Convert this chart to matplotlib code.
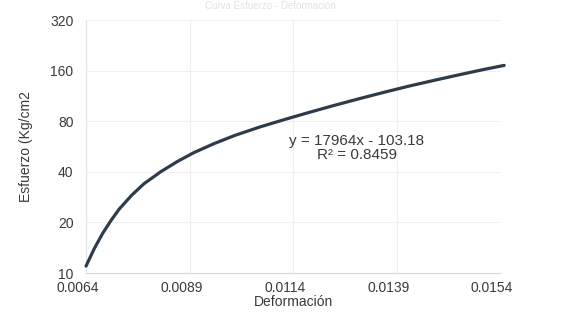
import matplotlib
matplotlib.use("Agg")
import matplotlib.pyplot as plt
import matplotlib.transforms as mtransforms
from matplotlib.ticker import FixedLocator, NullLocator

plt.rcParams['font.family'] = ['Liberation Sans', 'DejaVu Sans']

# Strain (deformación) and stress (esfuerzo) readings
deformacion = [0.0064, 0.0066, 0.0068, 0.0070, 0.0072, 0.0075, 0.0078,
               0.0082, 0.0086, 0.0090, 0.0095, 0.0100, 0.0106, 0.0112,
               0.0118, 0.0124, 0.0130, 0.0136, 0.0142, 0.0148, 0.0154,
               0.0160, 0.0165]
esfuerzo = [11.0, 14.0, 17.2, 20.5, 24.0, 29.0, 34.0,
            40.0, 46.0, 52.0, 59.0, 66.0, 74.0, 82.0,
            90.5, 99.5, 109.0, 119.0, 129.5, 140.0, 151.0,
            162.5, 172.0]

x_ticks = [0.0064, 0.0089, 0.0114, 0.0139, 0.0164]
x_tick_labels = ["0.0064", "0.0089", "0.0114", "0.0139", "0.0154"]
y_ticks = [10, 20, 40, 80, 160, 320]
y_tick_labels = ["10", "20", "40", "80", "160", "320"]

trend_text = "y = 17964x - 103.18\nR² = 0.8459"
title_text = "Curva Esfuerzo - Deformación"

fig = plt.figure(figsize=(5.86, 3.29), dpi=100)
ax = fig.add_axes([0.1468, 0.170, 0.7065, 0.769])

ax.plot(deformacion, esfuerzo, color="#2e3b4a", linewidth=2.3,
        solid_capstyle="round", clip_on=False, zorder=3)

ax.set_yscale("log", base=2)
ax.set_ylim(10, 320)
ax.set_xlim(0.0064, 0.0164)
ax.yaxis.set_major_locator(FixedLocator(y_ticks))
ax.yaxis.set_minor_locator(NullLocator())
ax.set_yticklabels(y_tick_labels)
ax.set_xticks(x_ticks)
ax.set_xticklabels(x_tick_labels)

ax.grid(True, color="#efefef", linewidth=0.8)
ax.set_axisbelow(True)
for side in ("top", "right"):
    ax.spines[side].set_visible(False)
ax.spines["left"].set_color("#e4e4e4")
ax.spines["bottom"].set_color("#d9d9d9")
ax.tick_params(length=0, colors="#3a3a3a", labelsize=10)
ax.tick_params(axis="x", pad=6)
ax.tick_params(axis="y", pad=9)

# nudge x tick labels slightly left
shift = mtransforms.ScaledTranslation(-8 / 100, 0, fig.dpi_scale_trans)
for lab in ax.get_xticklabels():
    lab.set_transform(lab.get_transform() + shift)

ax.set_xlabel("Deformación", fontsize=10, color="#3a3a3a", labelpad=0)
ax.set_ylabel("Esfuerzo (Kg/cm2", fontsize=10, color="#3a3a3a", labelpad=12)

fig.text(357 / 586, 1 - 148 / 329, trend_text, fontsize=11,
         color="#3a3a3a", ha="center", va="center", linespacing=0.95)

fig.text(270 / 586, 0.998, title_text, fontsize=7, color="#e2e2e2",
         ha="center", va="top")

fig.savefig("out.png", dpi=100, facecolor="white")
